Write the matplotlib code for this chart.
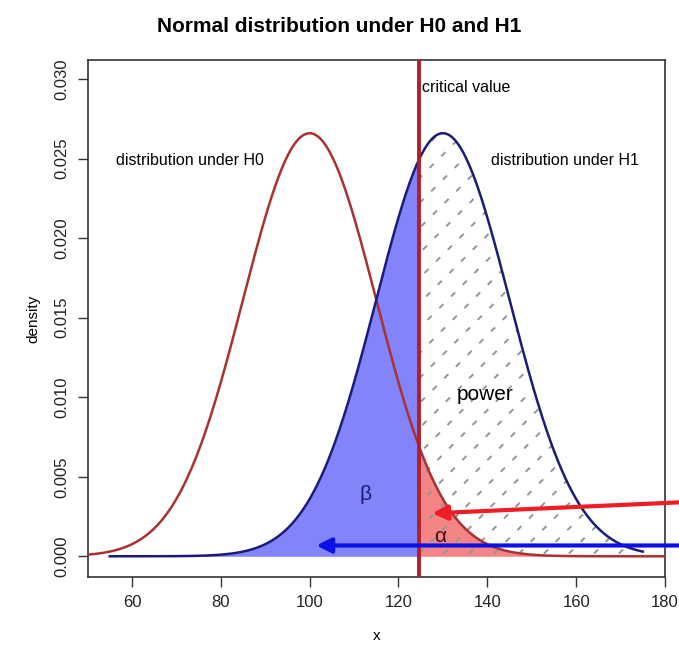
import numpy as np
import matplotlib
matplotlib.use("Agg")
import matplotlib.pyplot as plt
from matplotlib.patches import Polygon

# ---- data ----
means = [100, 130]          # H0, H1
sd = 15
critical = 124.7
h0_range = [50, 180]
h1_range = [55, 175]
xticks = [60, 80, 100, 120, 140, 160, 180]
yticks = [0.000, 0.005, 0.010, 0.015, 0.020, 0.025, 0.030]
labels = ["distribution under H0", "distribution under H1", "critical value", "power", "β", "α"]

plt.rcParams['font.family'] = ['Liberation Sans', 'DejaVu Sans']

def dnorm(x, m, s):
    return np.exp(-0.5 * ((x - m) / s) ** 2) / (s * np.sqrt(2 * np.pi))

fig = plt.figure(figsize=(6.79, 6.6), dpi=100)
ax = fig.add_axes([0.1289, 0.1258, 0.8505, 0.7833])
ax.set_xlim(50, 180)
ax.set_ylim(-0.0013, 0.0312)

x0 = np.linspace(h0_range[0], h0_range[1], 600)
x1 = np.linspace(h1_range[0], h1_range[1], 600)
y0 = dnorm(x0, means[0], sd)
y1 = dnorm(x1, means[1], sd)

# beta region
xb = np.linspace(h1_range[0], critical, 300)
ax.fill_between(xb, 0, dnorm(xb, means[1], sd), color='#8383FA', lw=0, zorder=1)
# alpha region
xa = np.linspace(critical, h0_range[1], 300)
ax.fill_between(xa, 0, dnorm(xa, means[0], sd), color='#F58585', lw=0, zorder=1)

# power hatch (dashed diagonal lines clipped to region)
xp = np.linspace(critical, h1_range[1], 300)
yp = dnorm(xp, means[1], sd)
poly = np.vstack([np.column_stack([xp, yp]), [[h1_range[1], 0], [critical, 0]]])
clip = Polygon(poly, closed=True, transform=ax.transData, fill=False, edgecolor='none')
ax.add_patch(clip)
bb = ax.get_position()
wpx = bb.width * 679
hpx = bb.height * 660
spacing = 25.0
for k in np.arange(-hpx, wpx + spacing, spacing):
    xs = np.array([k / wpx, (k + hpx) / wpx])
    ys = np.array([0.0, 1.0])
    ln, = ax.plot(xs, ys, transform=ax.transAxes, color='#959595', lw=1.4,
                  linestyle=(0, (3, 5.5)), zorder=2)
    ln.set_clip_path(clip)

# curves
ax.plot(x0, y0, color='#A83232', lw=1.8, zorder=3)
ax.plot(x1, y1, color='#1C1C78', lw=1.8, zorder=3)

# critical line
ax.axvline(critical, color='#B0202A', lw=2.8, zorder=4)

# texts
ax.text(critical + 0.5, 0.0295, labels[2], fontsize=11.5, va='center', ha='left', zorder=5)
ax.text(73, 0.0249, labels[0], fontsize=11.5, va='center', ha='center', zorder=5)
ax.text(157.5, 0.0249, labels[1], fontsize=11.5, va='center', ha='center', zorder=5)
ax.text(139.5, 0.0102, labels[3], fontsize=15, va='center', ha='center', zorder=5)
ax.text(112.5, 0.0039, labels[4], fontsize=15, va='center', ha='center',
        color='#1C1C78', zorder=5)
ax.text(129.3, 0.00125, labels[5], fontsize=15, va='center', ha='center',
        color='#3a1010', zorder=5)

# arrows
ax.annotate('', xy=(127.6, 0.0027), xytext=(184, 0.0034),
            arrowprops=dict(arrowstyle='-|>', color='#EE1C25', lw=3,
                            mutation_scale=22, shrinkA=0, shrinkB=0),
            annotation_clip=False, zorder=6)
ax.annotate('', xy=(101.5, 0.00068), xytext=(184, 0.00068),
            arrowprops=dict(arrowstyle='-|>', color='#0A10E6', lw=3,
                            mutation_scale=22, shrinkA=0, shrinkB=0),
            annotation_clip=False, zorder=6)

# axes styling
ax.set_xticks(xticks)
ax.set_yticks(yticks)
ax.set_yticklabels([f"{v:.3f}" for v in yticks], rotation=90, va='center')
ax.tick_params(direction='out', length=7, width=1, colors='#333333',
               labelsize=12, labelcolor='#222222', pad=6)
for s in ax.spines.values():
    s.set_color('#333333')
    s.set_linewidth(1.2)

ax.set_xlabel('x', fontsize=11, labelpad=14)
ax.set_ylabel('density', fontsize=11, labelpad=10)
fig.suptitle('Normal distribution under H0 and H1', fontsize=15,
             fontweight='bold', y=0.975)

fig.savefig('out.png', dpi=100)
